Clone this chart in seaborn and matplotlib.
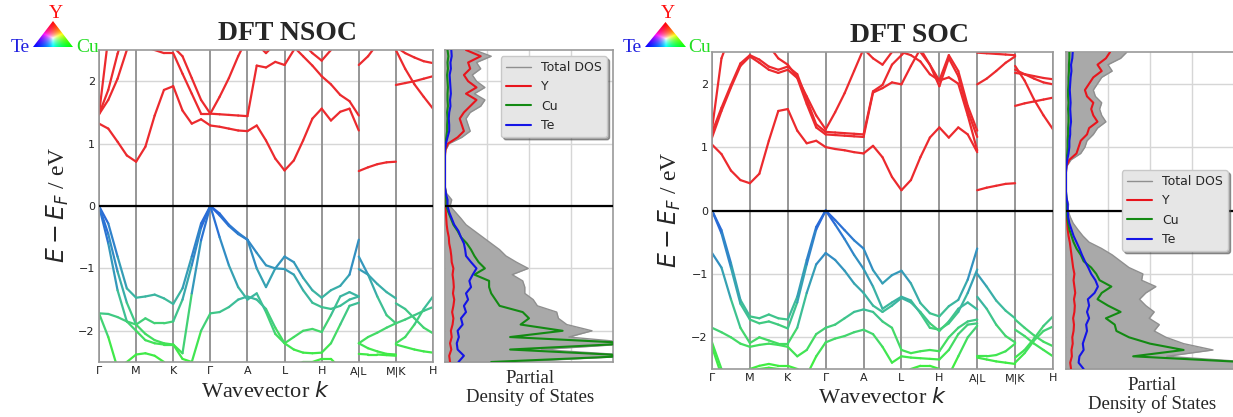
import numpy as np
import matplotlib
matplotlib.use("Agg")
import matplotlib.pyplot as plt
import seaborn as sns
from matplotlib.collections import LineCollection
from matplotlib.colors import LinearSegmentedColormap, Normalize
from matplotlib.patches import Polygon

# ---------------- data ----------------
k_labels = ["Γ", "M", "K", "Γ", "A", "L", "H", "A|L", "M|K", "H"]
k_main = np.linspace(0, 7, 29)   # Γ-M-K-Γ-A-L-H-A, 4 samples per segment
k_lm = np.linspace(7, 8, 5)      # L-M
k_kh = np.linspace(8, 9, 5)      # K-H

# DFT NSOC bands (eV)
nsoc_main = [
    [1.32, 1.24, 1.03, 0.81, 0.71, 0.95, 1.45, 1.86, 1.92, 1.53, 1.32, 1.39, 1.29, 1.27, 1.24,
     1.21, 1.20, 1.29, 1.05, 0.76, 0.57, 0.73, 1.05, 1.40, 1.56, 1.37, 1.51, 1.56, 1.21],
    [1.47, 1.70, 2.04, 2.50, 2.70, 2.55, 2.50, 2.45, 2.45, 2.12, 1.80, 1.48, 1.48, 1.47, 1.46,
     1.45, 1.44, 2.25, 2.22, 2.31, 2.26, 2.50, 2.70, 2.80, 2.90, 2.90, 2.90, 2.90, 2.90],
    [1.47, 1.86, 2.44, 2.90, 3.00, 3.00, 2.90, 2.70, 2.55, 2.40, 2.05, 1.70, 1.48, 1.75, 2.05,
     2.40, 2.70, 2.90, 2.90, 2.80, 2.70, 2.55, 2.40, 2.25, 2.08, 1.95, 1.78, 1.68, 1.45],
    [1.47, 2.70, 3.00, 3.00, 3.00, 3.00, 3.00, 3.00, 3.00, 3.00, 3.00, 3.00, 3.00, 3.00, 3.00,
     3.00, 3.00, 2.60, 2.45, 2.60, 2.90, 2.80, 2.60, 2.45, 2.33, 2.50, 2.70, 2.90, 3.00],
    [0.00, -0.28, -0.81, -1.32, -1.47, -1.45, -1.42, -1.48, -1.57, -1.32, -0.81, -0.28, 0.00, -0.12, -0.30,
     -0.43, -0.54, -1.00, -1.30, -1.00, -0.81, -0.90, -1.15, -1.35, -1.47, -1.35, -1.28, -1.10, -0.54],
    [0.00, -0.45, -1.05, -1.55, -1.90, -1.80, -1.88, -1.88, -1.85, -1.50, -0.95, -0.35, 0.00, -0.15, -0.32,
     -0.45, -0.54, -0.75, -0.95, -1.00, -1.01, -1.10, -1.35, -1.55, -1.62, -1.65, -1.60, -1.50, -1.45],
    [0.00, -0.60, -1.35, -1.85, -2.00, -2.15, -2.20, -2.22, -2.22, -2.36, -1.40, -0.55, 0.00, -0.50, -0.95,
     -1.30, -1.50, -1.40, -1.70, -2.05, -2.20, -2.10, -2.00, -1.97, -2.02, -1.75, -1.45, -1.38, -1.45],
    [-1.72, -1.73, -1.78, -1.85, -1.90, -2.05, -2.15, -2.20, -2.22, -2.45, -2.50, -2.00, -1.72, -1.70, -1.62,
     -1.50, -1.45, -1.50, -1.65, -1.95, -2.20, -2.30, -2.35, -2.36, -2.35, -2.20, -1.90, -1.60, -1.55],
    [-1.72, -2.10, -2.60, -2.50, -2.38, -2.36, -2.40, -2.50, -2.70, -2.80, -2.90, -2.90, -2.90, -2.90, -2.90,
     -2.80, -2.70, -2.70, -2.60, -2.60, -2.55, -2.55, -2.50, -2.50, -2.45, -2.45, -2.60, -2.80, -2.90],
]
nsoc_lm = [
    [0.56, 0.62, 0.67, 0.70, 0.71],
    [2.26, 2.40, 2.60, 2.80, 2.90],
    [-0.81, -1.10, -1.45, -1.75, -1.88],
    [-1.01, -1.10, -1.25, -1.38, -1.48],
    [-2.20, -2.10, -2.03, -1.95, -1.88],
    [-2.20, -2.28, -2.33, -2.37, -2.38],
    [-2.37, -2.38, -2.38, -2.39, -2.40],
]
nsoc_kh = [
    [1.94, 1.97, 2.00, 2.04, 2.08],
    [2.50, 2.20, 1.95, 1.75, 1.56],
    [2.55, 2.45, 2.38, 2.32, 2.29],
    [-1.56, -1.65, -1.80, -1.95, -2.04],
    [-1.88, -1.82, -1.75, -1.68, -1.62],
    [-2.20, -2.10, -1.90, -1.65, -1.45],
    [-2.22, -2.26, -2.30, -2.33, -2.35],
]

# DFT SOC bands (eV)
soc_main = [
    [1.04, 0.89, 0.63, 0.48, 0.43, 0.58, 1.10, 1.57, 1.60, 1.26, 1.06, 1.10, 1.00, 0.97, 0.95,
     0.92, 0.90, 1.02, 0.84, 0.53, 0.32, 0.48, 0.84, 1.15, 1.31, 1.15, 1.31, 1.20, 0.92],
    [1.15, 1.57, 1.94, 2.28, 2.43, 2.33, 2.22, 2.17, 2.22, 2.09, 1.68, 1.31, 1.20, 1.19, 1.18,
     1.17, 1.16, 1.86, 1.93, 2.02, 1.99, 2.28, 2.55, 2.30, 1.96, 2.40, 2.12, 1.57, 1.16],
    [1.23, 1.62, 1.98, 2.32, 2.45, 2.38, 2.27, 2.22, 2.27, 2.15, 1.75, 1.36, 1.24, 1.23, 1.22,
     1.21, 1.20, 1.88, 1.98, 2.30, 2.45, 2.60, 2.50, 2.30, 2.05, 2.45, 2.20, 1.65, 1.26],
    [1.28, 2.40, 2.80, 2.90, 2.90, 2.80, 2.60, 2.40, 2.30, 2.10, 1.80, 1.50, 1.28, 1.55, 1.85,
     2.20, 2.55, 2.40, 2.30, 2.50, 2.50, 2.45, 2.35, 2.15, 2.05, 2.10, 2.00, 1.50, 0.95],
    [0.00, -0.31, -0.83, -1.41, -1.67, -1.70, -1.64, -1.70, -1.72, -1.36, -0.78, -0.26, 0.00, -0.15, -0.31,
     -0.47, -0.60, -0.94, -1.15, -1.02, -0.95, -1.15, -1.46, -1.62, -1.67, -1.51, -1.41, -1.09, -0.60],
    [0.00, -0.36, -0.90, -1.47, -1.72, -1.78, -1.75, -1.80, -1.86, -1.45, -0.85, -0.30, 0.00, -0.22, -0.45,
     -0.70, -0.92, -1.20, -1.55, -1.45, -1.36, -1.42, -1.62, -1.85, -1.88, -1.78, -1.60, -1.30, -0.93],
    [-0.67, -0.90, -1.40, -1.85, -2.09, -2.00, -2.05, -2.10, -2.10, -1.85, -1.30, -0.85, -0.67, -0.78, -0.95,
     -1.15, -1.30, -1.50, -1.60, -1.50, -1.38, -1.45, -1.60, -1.78, -1.90, -1.75, -1.55, -1.45, -1.56],
    [-1.85, -1.92, -2.00, -2.10, -2.15, -2.12, -2.10, -2.12, -2.15, -2.30, -2.20, -1.95, -1.85, -1.80, -1.70,
     -1.60, -1.56, -1.60, -1.75, -1.85, -2.20, -2.25, -2.22, -2.20, -2.22, -2.00, -1.85, -1.75, -1.72],
    [-2.08, -2.50, -2.80, -2.60, -2.50, -2.45, -2.42, -2.45, -2.45, -2.50, -2.60, -2.30, -2.08, -2.02, -1.98,
     -1.92, -1.88, -1.95, -2.15, -2.40, -2.30, -2.32, -2.33, -2.34, -2.35, -2.20, -1.95, -1.80, -1.78],
    [-2.15, -2.60, -2.90, -2.90, -2.55, -2.50, -2.48, -2.50, -2.55, -2.80, -2.90, -2.90, -2.90, -2.85, -2.80,
     -2.70, -2.60, -2.60, -2.70, -2.80, -2.60, -2.50, -2.45, -2.45, -2.50, -2.60, -2.30, -2.00, -1.82],
]
soc_lm = [
    [0.32, 0.36, 0.39, 0.42, 0.43],
    [1.99, 2.08, 2.20, 2.33, 2.43],
    [2.49, 2.48, 2.47, 2.46, 2.45],
    [-1.00, -1.20, -1.42, -1.58, -1.70],
    [-1.36, -1.55, -1.80, -1.98, -2.08],
    [-2.30, -2.30, -2.28, -2.22, -2.10],
    [-2.32, -2.35, -2.38, -2.40, -2.42],
]
soc_kh = [
    [1.65, 1.69, 1.72, 1.75, 1.78],
    [2.28, 2.05, 1.75, 1.50, 1.28],
    [2.22, 2.15, 2.08, 2.02, 1.99],
    [2.17, 2.15, 2.12, 2.09, 2.07],
    [-1.72, -1.85, -1.97, -2.07, -2.14],
    [-1.88, -1.98, -2.10, -2.20, -2.30],
    [-2.32, -2.20, -2.02, -1.82, -1.67],
    [-2.40, -2.25, -2.05, -1.90, -1.83],
]

# partial density of states, energies -2.5 ... 2.5 eV in 0.1 eV steps
dos_energy = np.round(np.linspace(-2.5, 2.5, 51), 2)

nsoc_total = [1.6, 4.6, 2.3, 4.6, 2.95, 3.5, 2.9, 2.7, 2.66, 2.2, 2.1, 1.9, 1.9, 1.85, 1.6, 1.98, 1.7,
              1.45, 1.3, 1.1, 0.9, 0.7, 0.5, 0.38, 0.25, 0.12,
              0.16, 0.04, 0, 0, 0, 0, 0, 0, 0.02, 0.1, 0.4, 0.6, 0.55, 0.5, 0.6, 0.85, 0.95, 0.7,
              0.95, 0.75, 0.65, 0.85, 0.75, 1.1, 0.7]
nsoc_y = [0.12, 0.1, 0.15, 0.12, 0.16, 0.14, 0.18, 0.2, 0.17, 0.2, 0.22, 0.19, 0.21, 0.2, 0.18, 0.2,
          0.16, 0.15, 0.13, 0.1, 0.09, 0.06, 0.04, 0.03, 0.02, 0.01,
          0.02, 0.01, 0, 0, 0, 0, 0, 0, 0.01, 0.07, 0.3, 0.45, 0.4, 0.35, 0.45, 0.6, 0.75, 0.5,
          0.75, 0.55, 0.45, 0.6, 0.55, 0.85, 0.5]
nsoc_cu = [1.1, 4.5, 1.55, 4.5, 1.55, 2.8, 1.8, 2.0, 1.85, 1.3, 1.2, 1.1, 1.05, 1.05, 0.7, 0.95, 0.8,
           0.7, 0.62, 0.52, 0.38, 0.3, 0.2, 0.14, 0.08, 0.03,
           0.03, 0.01, 0, 0, 0, 0, 0, 0, 0.0, 0.01, 0.03, 0.05, 0.05, 0.06, 0.05, 0.07, 0.06, 0.06,
           0.07, 0.06, 0.05, 0.07, 0.06, 0.08, 0.06]
nsoc_te = [0.32, 0.45, 0.3, 0.28, 0.33, 0.3, 0.42, 0.38, 0.5, 0.45, 0.55, 0.5, 0.62, 0.58, 0.66, 0.75,
           0.62, 0.5, 0.48, 0.45, 0.38, 0.32, 0.22, 0.16, 0.1, 0.06,
           0.06, 0.02, 0, 0, 0, 0, 0, 0, 0.0, 0.02, 0.06, 0.1, 0.1, 0.09, 0.1, 0.13, 0.12, 0.14,
           0.13, 0.12, 0.11, 0.14, 0.13, 0.16, 0.15]

soc_total = [4.6, 4.6, 2.4, 3.5, 2.8, 2.38, 2.1, 2.22, 1.98, 2.1, 1.9, 1.75, 1.9, 2.14, 1.8, 1.83, 1.5,
             1.3, 1.1, 0.85, 0.55, 0.4, 0.28, 0.17, 0.1, 0.05,
             0.06, 0.02, 0, 0, 0, 0, 0.02, 0.12, 0.35, 0.45, 0.5, 0.65, 0.75, 0.95, 0.85, 0.8, 0.85,
             0.7, 0.65, 0.75, 0.85, 1.1, 1.0, 1.3, 1.45]
soc_y = [0.12, 0.1, 0.14, 0.13, 0.16, 0.15, 0.18, 0.19, 0.17, 0.2, 0.21, 0.19, 0.22, 0.2, 0.18, 0.2,
         0.17, 0.15, 0.13, 0.11, 0.09, 0.06, 0.04, 0.03, 0.02, 0.01,
         0.01, 0.0, 0, 0, 0, 0, 0.01, 0.08, 0.25, 0.3, 0.35, 0.5, 0.55, 0.75, 0.65, 0.6, 0.65,
         0.5, 0.45, 0.55, 0.65, 0.85, 0.75, 0.95, 1.05]
soc_cu = [4.5, 4.5, 1.6, 2.8, 2.0, 1.5, 1.2, 1.16, 0.95, 1.3, 1.0, 0.75, 0.85, 1.08, 0.8, 0.72, 0.6,
          0.42, 0.35, 0.25, 0.18, 0.13, 0.08, 0.05, 0.03, 0.02,
          0.02, 0.01, 0, 0, 0, 0, 0.0, 0.01, 0.03, 0.04, 0.04, 0.05, 0.05, 0.06, 0.06, 0.05, 0.06,
          0.05, 0.05, 0.06, 0.06, 0.07, 0.07, 0.08, 0.08]
soc_te = [0.42, 0.3, 0.32, 0.42, 0.4, 0.45, 0.5, 0.48, 0.55, 0.5, 0.55, 0.52, 0.68, 0.76, 0.7, 0.6,
          0.53, 0.45, 0.38, 0.32, 0.25, 0.18, 0.13, 0.08, 0.05, 0.04,
          0.04, 0.01, 0, 0, 0, 0, 0.01, 0.03, 0.06, 0.08, 0.08, 0.1, 0.1, 0.12, 0.11, 0.1, 0.11,
          0.1, 0.09, 0.1, 0.11, 0.13, 0.12, 0.15, 0.16]

# ---------------- style ----------------
sns.set_style("whitegrid")
plt.rcParams["font.family"] = ["DejaVu Sans"]
plt.rcParams["mathtext.fontset"] = "dejavusans"
SERIF = ["Liberation Serif", "DejaVu Serif"]

# band colour by energy: projection onto Te (blue) / Cu (green) below E_F, Y (red) above
band_cmap = LinearSegmentedColormap.from_list(
    "proj",
    [(0.0, "#3ff03d"), (0.1, "#44d86a"), (0.2, "#3cb99e"), (0.3, "#3499ba"),
     (0.4, "#2f80cc"), (0.5, "#2762dc"), (0.5001, "#ec2a2e"), (1.0, "#ec2a2e")])
band_norm = Normalize(-2.5, 2.5)

W, H = 1233, 417
fig = plt.figure(figsize=(W / 100, H / 100), dpi=100)


def px_axes(x0, y0, x1, y1):
    return fig.add_axes([x0 / W, 1 - y1 / H, (x1 - x0) / W, (y1 - y0) / H])


def draw_bands(ax, pieces):
    segs, vals = [], []
    for k, bands in pieces:
        for e in bands:
            e = np.asarray(e, dtype=float)
            pts = np.column_stack([k, e])
            segs.extend(np.stack([pts[:-1], pts[1:]], axis=1))
            vals.extend((e[:-1] + e[1:]) / 2)
    lc = LineCollection(segs, cmap=band_cmap, norm=band_norm, linewidths=1.6,
                        capstyle="round", zorder=2)
    lc.set_array(np.array(vals))
    ax.add_collection(lc)


def style_frame(ax):
    ax.tick_params(length=0, labelsize=8, pad=3, colors="#222222")
    for s in ax.spines.values():
        s.set_color("#9a9a9a")
        s.set_linewidth(1.2)


def band_panel(box, main, lm, kh):
    ax = px_axes(*box)
    draw_bands(ax, [(k_main, main), (k_lm, lm), (k_kh, kh)])
    ax.set_xlim(0, 9)
    ax.set_ylim(-2.5, 2.5)
    ax.set_xticks(range(len(k_labels)))
    ax.set_xticklabels(k_labels)
    ax.set_yticks([-2, -1, 0, 1, 2])
    ax.grid(axis="x", visible=False)
    ax.grid(axis="y", color="#d6d6d6", lw=1)
    for k in range(len(k_labels)):
        ax.axvline(k, color="#8e8e8e", lw=1.3, zorder=1)
    ax.axhline(0, color="black", lw=1.6, zorder=3)
    style_frame(ax)
    return ax


def dos_panel(box, total, y, cu, te, loc):
    ax = px_axes(*box)
    ax.fill_betweenx(dos_energy, 0, total, color="#a9a9a9", lw=0, zorder=1)
    sns.lineplot(x=total, y=dos_energy, orient="y", color="#8f8f8f", lw=1.0,
                 label="Total DOS", ax=ax, zorder=2)
    sns.lineplot(x=y, y=dos_energy, orient="y", color="#e8141c", lw=1.5, label="Y", ax=ax, zorder=3)
    sns.lineplot(x=cu, y=dos_energy, orient="y", color="#138a13", lw=1.5, label="Cu", ax=ax, zorder=3)
    sns.lineplot(x=te, y=dos_energy, orient="y", color="#1414e6", lw=1.5, label="Te", ax=ax, zorder=3)
    ax.axhline(0, color="black", lw=1.6, zorder=4)
    ax.set_xlim(0, 4)
    ax.set_ylim(-2.5, 2.5)
    ax.set_xticks([1, 2, 3])
    ax.set_yticks([-2, -1, 0, 1, 2])
    ax.set_xticklabels([])
    ax.set_yticklabels([])
    ax.set_xlabel("")
    ax.set_ylabel("")
    ax.grid(color="#d6d6d6", lw=1)
    style_frame(ax)
    leg = ax.legend(loc=loc, fontsize=9, frameon=True, shadow=True, fancybox=True,
                    facecolor="#e6e6e6", edgecolor="#c8c8c8", framealpha=1)
    leg.set_zorder(5)
    return ax


def ternary(box, y_pos, te_pos, cu_pos):
    tax = px_axes(*box)
    tax.set_xlim(0, 1)
    tax.set_ylim(0, 1)
    tax.axis("off")
    gx, gy = np.meshgrid(np.linspace(0, 1, 160), np.linspace(0, 1, 160))
    w_y = gy
    w_cu = gx - 0.5 * gy
    w_te = 1 - w_y - w_cu
    rgb = np.clip(np.dstack([w_y, w_cu, w_te]), 0, 1)
    rgb = rgb / np.maximum(rgb.max(axis=2, keepdims=True), 1e-6)
    im = tax.imshow(rgb, extent=[0, 1, 0, 1], origin="lower", aspect="auto",
                    interpolation="bilinear")
    tri = Polygon([[0, 0], [1, 0], [0.5, 1]], closed=True, transform=tax.transData,
                  facecolor="none", edgecolor="none")
    tax.add_patch(tri)
    im.set_clip_path(tri)
    for txt, pos, col in (("Y", y_pos, "#ff1010"), ("Te", te_pos, "#2020e0"), ("Cu", cu_pos, "#22dd22")):
        fig.text(pos[0] / W, 1 - pos[1] / H, txt, color=col, family=SERIF, fontsize=14,
                 ha="center", va="center")


def fig_text(x, y, s, **kw):
    fig.text(x / W, 1 - y / H, s, ha="center", va="center", **kw)


# ---------------- NSOC ----------------
band_panel((99, 50, 433, 362), nsoc_main, nsoc_lm, nsoc_kh)
dos_panel((445, 50, 613, 362), nsoc_total, nsoc_y, nsoc_cu, nsoc_te, "upper right")
ternary((33, 21, 73, 47), (56, 13), (20, 48), (88, 48))
fig_text(287, 34, "DFT NSOC", family=SERIF, fontsize=20, fontweight="bold")
fig_text(58, 205, r"$E - E_F$ / eV", family=SERIF, fontsize=17, rotation=90)
fig_text(265, 392, r"Wavevector $k$", family=SERIF, fontsize=16)
fig_text(530, 388, "Partial\nDensity of States", family=SERIF, fontsize=13.5, linespacing=1.05)

# ---------------- SOC ----------------
band_panel((712, 52, 1053, 369), soc_main, soc_lm, soc_kh)
dos_panel((1066, 52, 1234, 369), soc_total, soc_y, soc_cu, soc_te, "center right")
ternary((645, 22, 686, 47), (668, 13), (632, 48), (700, 48))
fig_text(909, 35, "DFT SOC", family=SERIF, fontsize=20, fontweight="bold")
fig_text(670, 210, r"$E - E_F$ / eV", family=SERIF, fontsize=17, rotation=90)
fig_text(882, 398, r"Wavevector $k$", family=SERIF, fontsize=16)
fig_text(1152, 395, "Partial\nDensity of States", family=SERIF, fontsize=13.5, linespacing=1.05)

fig.savefig("out.png", dpi=100)
